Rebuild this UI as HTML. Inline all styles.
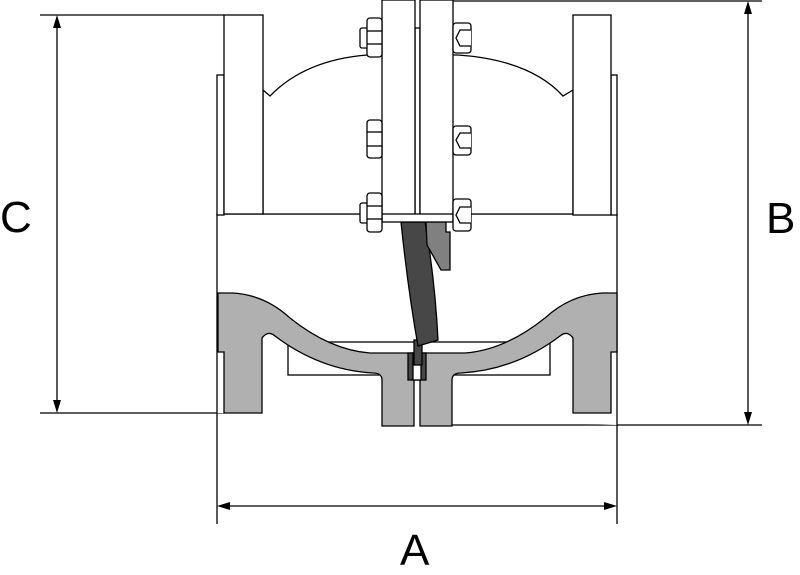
<!DOCTYPE html>
<html><head><style>body{margin:0;background:#fff}svg{display:block}</style></head><body>
<svg width="800" height="575" viewBox="0 0 800 575" xmlns="http://www.w3.org/2000/svg" font-family="Liberation Sans, sans-serif">
<g fill="none" stroke="#000" stroke-width="1.3">
<line x1="40" y1="15" x2="224" y2="15"/><line x1="40" y1="413" x2="224" y2="413"/>
<line x1="57" y1="18" x2="57" y2="410"/>
<line x1="453" y1="1" x2="762" y2="1"/><line x1="420" y1="425" x2="762" y2="425"/>
<line x1="748" y1="4" x2="748" y2="422"/>
<line x1="217" y1="413" x2="217" y2="524"/><line x1="617" y1="425" x2="617" y2="524"/>
<line x1="220" y1="506" x2="614" y2="506"/>
</g>
<g fill="#000">
<polygon points="57,15 53,28 61,28"/><polygon points="57,413 53,400 61,400"/>
<polygon points="748,1 744,14 752,14"/><polygon points="748,425 744,412 752,412"/>
<polygon points="217,506 230,502 230,510"/><polygon points="617,506 604,502 604,510"/>
</g>
<text x="0" y="232" font-size="44">C</text>
<text x="766" y="233" font-size="44">B</text>
<text x="400" y="565" font-size="44">A</text>
<g stroke="#000" stroke-width="1.3" fill="#fff">
<path d="M217,413 L217,214 L617,214 L617,425" />
<rect x="217" y="75" width="7" height="140"/>
<rect x="611" y="75" width="6" height="140"/>
<path d="M263,90 L270,96 Q305,60 367,55 L458,55 Q530,60 563,96 L573,90 L573,214 L263,214 Z"/>
<rect x="224" y="15" width="39" height="199"/>
<rect x="573" y="15" width="38" height="200"/>
<rect x="288" y="342" width="262" height="33"/>
<path fill="#b0b0b0" d="M218,293 L233,293 Q265,295 290,318 Q330,350 370,353 L414,353 L414,426 L382,426 L382,380 Q382,373 373,373 Q320,370 275,336 Q268,330 262,338 L262,413 L224,413 L224,352 L218,352 Z"/>
<path fill="#b0b0b0" d="M617,293 L602,293 Q570,295 545,318 Q505,350 465,353 L420,353 L420,426 L452,426 L452,380 Q452,373 461,373 Q515,370 560,336 Q567,330 573,338 L573,413 L611,413 L611,352 L617,352 Z"/>
<rect x="408" y="353" width="18" height="27" fill="#474747"/>
<rect x="413" y="353" width="8" height="27" fill="#fff"/>
<rect x="414" y="340" width="8" height="25" fill="#474747"/>
<path fill="#474747" d="M401,222 L425,222 Q435,280 438,340 L418,346 Q408,290 401,222 Z"/>
<path fill="#808080" d="M426,222 L446,222 L446,232 L450,232 L450,270 L441,270 L427,245 Z"/>
<rect x="415" y="28" width="5" height="190"/>
<rect x="382" y="0" width="33" height="215"/>
<rect x="420" y="0" width="33" height="215"/>
<rect x="382" y="214" width="71" height="8"/>
<rect x="360" y="28" width="8" height="20" rx="2"/><rect x="367" y="18" width="15" height="39" rx="3"/>
<line x1="367" y1="31" x2="382" y2="31"/><line x1="367" y1="44" x2="382" y2="44"/>
<rect x="367" y="120" width="15" height="38" rx="3"/>
<line x1="367" y1="132" x2="382" y2="132"/><line x1="367" y1="146" x2="382" y2="146"/>
<rect x="360" y="203" width="8" height="20" rx="2"/><rect x="367" y="193" width="15" height="39" rx="3"/>
<line x1="367" y1="206" x2="382" y2="206"/><line x1="367" y1="219" x2="382" y2="219"/>
<rect x="453" y="23" width="18" height="30" rx="3"/><polyline points="471,30 460,30 456,38 460,46 471,46"/>
<rect x="453" y="126" width="18" height="29" rx="3"/><polyline points="471,133 460,133 456,140 460,148 471,148"/>
<rect x="453" y="199" width="18" height="32" rx="3"/><polyline points="471,207 460,207 456,215 460,223 471,223"/>
</g>
</svg>
</body></html>
